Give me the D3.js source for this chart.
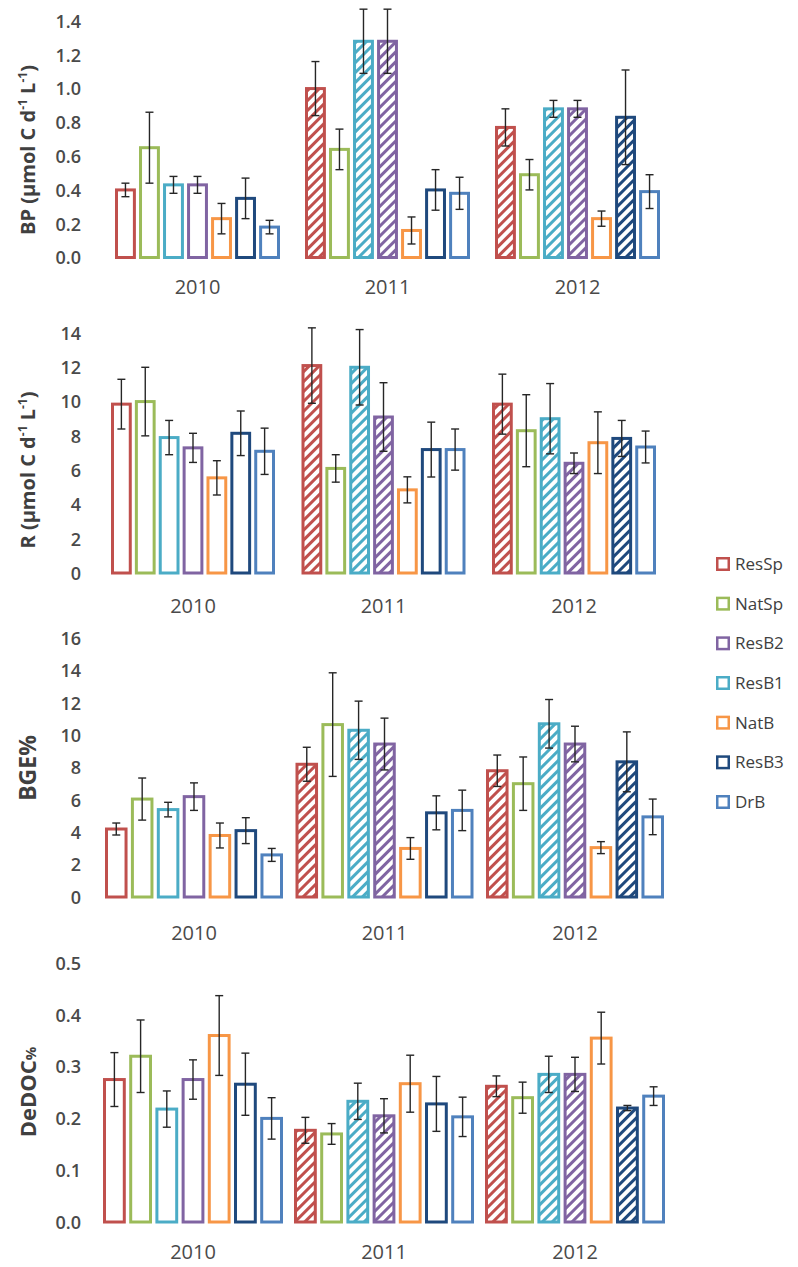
<!DOCTYPE html>
<html>
<head>
<meta charset="utf-8">
<script src="https://cdn.jsdelivr.net/npm/d3@7/dist/d3.min.js"></script>
<style>
  html, body { margin: 0; padding: 0; background: #ffffff; }
  svg { display: block; }
  text { font-family: "Open Sans", "Liberation Sans", sans-serif; }
</style>
</head>
<body>
<svg id="chart" width="798" height="1267"></svg>
<script>
// ---- data ----
const years = ["2010", "2011", "2012"];
const sites = ["ResSp", "NatSp", "ResB1", "ResB2", "NatB", "ResB3", "DrB"];
const legendOrder = ["ResSp", "NatSp", "ResB2", "ResB1", "NatB", "ResB3", "DrB"];
const siteColors = ["#C0504D", "#9BBB59", "#4BACC6", "#8064A2", "#F79646", "#1F497D", "#4F81BD"];

// hatched (true) vs open (false) bars, per year, in site order
const hatched2010 = [false, false, false, false, false, false, false];
const hatched2011 = [true, false, true, true, false, false, false];
const hatched2012 = [true, false, true, true, false, true, false];

// BP (µmol C d-1 L-1): mean per year, site order
const bp2010 = [0.40, 0.65, 0.43, 0.43, 0.23, 0.35, 0.18];
const bp2011 = [1.00, 0.64, 1.28, 1.28, 0.16, 0.40, 0.38];
const bp2012 = [0.77, 0.49, 0.88, 0.88, 0.23, 0.83, 0.39];
const bpErr2010 = [0.04, 0.21, 0.05, 0.05, 0.09, 0.12, 0.04];
const bpErr2011 = [0.16, 0.12, 0.19, 0.19, 0.08, 0.12, 0.095];
const bpErr2012 = [0.11, 0.09, 0.05, 0.05, 0.045, 0.28, 0.10];

// R (µmol C d-1 L-1)
const r2010 = [9.85, 10.0, 7.9, 7.3, 5.55, 8.15, 7.1];
const r2011 = [12.1, 6.1, 12.0, 9.1, 4.85, 7.2, 7.2];
const r2012 = [9.85, 8.3, 9.0, 6.4, 7.6, 7.85, 7.35];
const rErr2010 = [1.45, 2.0, 1.0, 0.85, 1.0, 1.3, 1.35];
const rErr2011 = [2.2, 0.8, 2.2, 2.0, 0.76, 1.6, 1.2];
const rErr2012 = [1.75, 2.1, 2.05, 0.6, 1.8, 1.05, 0.93];

// BGE%
const bge2010 = [4.2, 6.05, 5.4, 6.2, 3.8, 4.1, 2.6];
const bge2011 = [8.2, 10.65, 10.3, 9.45, 3.0, 5.2, 5.35];
const bge2012 = [7.8, 7.0, 10.7, 9.45, 3.05, 8.35, 4.95];
const bgeErr2010 = [0.37, 1.3, 0.45, 0.85, 0.77, 0.8, 0.4];
const bgeErr2011 = [1.05, 3.2, 1.8, 1.6, 0.67, 1.05, 1.25];
const bgeErr2012 = [0.97, 1.65, 1.5, 1.1, 0.37, 1.85, 1.1];

// DeDOC%
const dedoc2010 = [0.275, 0.32, 0.218, 0.275, 0.36, 0.266, 0.20];
const dedoc2011 = [0.177, 0.17, 0.233, 0.205, 0.267, 0.228, 0.203];
const dedoc2012 = [0.262, 0.24, 0.285, 0.285, 0.355, 0.22, 0.243];
const dedocErr2010 = [0.052, 0.07, 0.035, 0.038, 0.077, 0.06, 0.04];
const dedocErr2011 = [0.025, 0.02, 0.035, 0.033, 0.055, 0.053, 0.038];
const dedocErr2012 = [0.02, 0.03, 0.035, 0.033, 0.05, 0.005, 0.018];

// tick labels per panel
const bpTicks = [0, 0.2, 0.4, 0.6, 0.8, 1.0, 1.2, 1.4];
const rTicks = [0, 2, 4, 6, 8, 10, 12, 14];
const bgeTicks = [0, 2, 4, 6, 8, 10, 12, 14, 16];
const dedocTicks = [0, 0.1, 0.2, 0.3, 0.4, 0.5];

const hatchedByYear = [hatched2010, hatched2011, hatched2012];

function rows(vals, errs) {
  const out = [];
  years.forEach((yr, yi) => {
    sites.forEach((s, si) => {
      out.push({ year: yr, site: s, si, value: vals[yi][si], err: errs[yi][si], hatched: hatchedByYear[yi][si] });
    });
  });
  return out;
}

// ---- layout per panel ----
const panels = [
  { key: "bp", rows: rows([bp2010, bp2011, bp2012], [bpErr2010, bpErr2011, bpErr2012]),
    ticks: bpTicks, fmt: d3.format(".1f"), domain: [0, 1.4], yRange: [257.5, 21],
    x0: 115, groupW: 165, step: 190, yearY: 287, titleY: 150, titleSize: 20,
    title: [["BP (µmol C d", 0], ["-1", 1], [" L", 0], ["-1", 1], [")", 0]] },
  { key: "r", rows: rows([r2010, r2011, r2012], [rErr2010, rErr2011, rErr2012]),
    ticks: rTicks, fmt: d3.format("d"), domain: [0, 14], yRange: [573, 333],
    x0: 111, groupW: 164, step: 190.5, yearY: 606, titleY: 470, titleSize: 20,
    title: [["R (µmol C d", 0], ["-1", 1], [" L", 0], ["-1", 1], [")", 0]] },
  { key: "bge", rows: rows([bge2010, bge2011, bge2012], [bgeErr2010, bgeErr2011, bgeErr2012]),
    ticks: bgeTicks, fmt: d3.format("d"), domain: [0, 16], yRange: [897, 638],
    x0: 105, groupW: 178, step: 190.5, yearY: 933, titleY: 768, titleSize: 23,
    title: [["BGE%", 0]] },
  { key: "dedoc", rows: rows([dedoc2010, dedoc2011, dedoc2012], [dedocErr2010, dedocErr2011, dedocErr2012]),
    ticks: dedocTicks, fmt: d3.format(".1f"), domain: [0, 0.5], yRange: [1222, 963],
    x0: 103, groupW: 180, step: 191, yearY: 1252, titleY: 1092, titleSize: 22,
    title: [["DeDOC", 0], ["%", 2]] }
];

const svg = d3.select("#chart");
const defs = svg.append("defs");

// diagonal hatch pattern per colour
siteColors.forEach((c, i) => {
  const p = defs.append("pattern")
    .attr("id", "hatch" + i)
    .attr("patternUnits", "userSpaceOnUse")
    .attr("width", 7).attr("height", 7)
    .attr("patternTransform", "rotate(45)");
  p.append("rect").attr("width", 7).attr("height", 7).attr("fill", "#ffffff");
  p.append("rect").attr("x", 0).attr("y", 0).attr("width", 3).attr("height", 7).attr("fill", c);
});

const colorOf = d3.scaleOrdinal().domain(sites).range(siteColors);
const SW = 3; // bar outline width
const textCol = "#4a4a4a";

panels.forEach(P => {
  const g = svg.append("g").attr("class", "panel-" + P.key);
  const y = d3.scaleLinear().domain(P.domain).range(P.yRange);

  const totalW = P.step * 2 + P.groupW;
  const xYear = d3.scaleBand().domain(years)
    .range([P.x0, P.x0 + totalW])
    .paddingInner((P.step - P.groupW) / P.step)
    .paddingOuter(0);
  const xSite = d3.scaleBand().domain(sites)
    .range([0, xYear.bandwidth()])
    .paddingInner(0.13).paddingOuter(0);

  // y axis: labels only
  const yAxis = d3.axisLeft(y).tickValues(P.ticks).tickFormat(P.fmt).tickSize(0).tickPadding(0);
  const ax = g.append("g").attr("transform", "translate(81,0)").call(yAxis);
  ax.select(".domain").remove();
  ax.selectAll("text")
    .attr("fill", textCol)
    .style("font-size", "18px")
    .style("font-weight", "600")
    .attr("dy", "0.35em");

  // x axis: year labels only
  const xAxis = d3.axisBottom(xYear).tickSize(0).tickPadding(0);
  const xa = g.append("g").attr("transform", `translate(0,${P.yearY})`).call(xAxis);
  xa.select(".domain").remove();
  xa.selectAll("text")
    .attr("fill", textCol)
    .attr("dy", "0.35em")
    .style("font-size", "20px")
    .style("font-weight", "500");

  // y title
  const t = g.append("text")
    .attr("transform", `translate(28,${P.titleY}) rotate(-90)`)
    .attr("text-anchor", "middle")
    .attr("dy", "0.35em")
    .attr("fill", "#404040")
    .style("font-size", P.titleSize + "px")
    .style("font-weight", "700");
  P.title.forEach(([s, kind]) => {
    const ts = t.append("tspan").text(s);
    if (kind === 1) ts.attr("baseline-shift", "super").style("font-size", "12px");
    if (kind === 2) ts.style("font-size", "15px");
  });

  // bars
  const bars = g.append("g").selectAll("g.bar").data(P.rows).join("g").attr("class", "bar");
  bars.append("rect")
    .attr("x", d => xYear(d.year) + xSite(d.site) + SW / 2)
    .attr("width", xSite.bandwidth() - SW)
    .attr("y", d => y(d.value))
    .attr("height", d => y(0) - y(d.value))
    .attr("fill", d => d.hatched ? `url(#hatch${d.si})` : "#ffffff")
    .attr("stroke", d => colorOf(d.site))
    .attr("stroke-width", SW);

  // error bars
  const cx = d => xYear(d.year) + xSite(d.site) + xSite.bandwidth() / 2;
  const eb = g.append("g").attr("stroke", "#262626").attr("stroke-width", 1.4);
  eb.selectAll("line.v").data(P.rows).join("line").attr("class", "v")
    .attr("x1", cx).attr("x2", cx)
    .attr("y1", d => y(d.value + d.err)).attr("y2", d => y(d.value - d.err));
  ["top", "bot"].forEach(k => {
    eb.selectAll("line." + k).data(P.rows).join("line").attr("class", k)
      .attr("x1", d => cx(d) - 4).attr("x2", d => cx(d) + 4)
      .attr("y1", d => y(k === "top" ? d.value + d.err : d.value - d.err))
      .attr("y2", d => y(k === "top" ? d.value + d.err : d.value - d.err));
  });
});

// legend
const legY = d3.scalePoint().domain(legendOrder).range([564, 802]);
const leg = svg.append("g").attr("class", "legend");
const li = leg.selectAll("g").data(legendOrder).join("g")
  .attr("transform", d => `translate(716,${legY(d)})`);
li.append("rect")
  .attr("x", 1.25).attr("y", -5.75).attr("width", 11.5).attr("height", 11.5)
  .attr("fill", "#ffffff")
  .attr("stroke", d => colorOf(d))
  .attr("stroke-width", 2.5);
li.append("text")
  .attr("x", 19).attr("dy", "0.35em")
  .attr("fill", "#404040")
  .style("font-size", "17px")
  .style("font-weight", "500")
  .text(d => d);
</script>
</body>
</html>
